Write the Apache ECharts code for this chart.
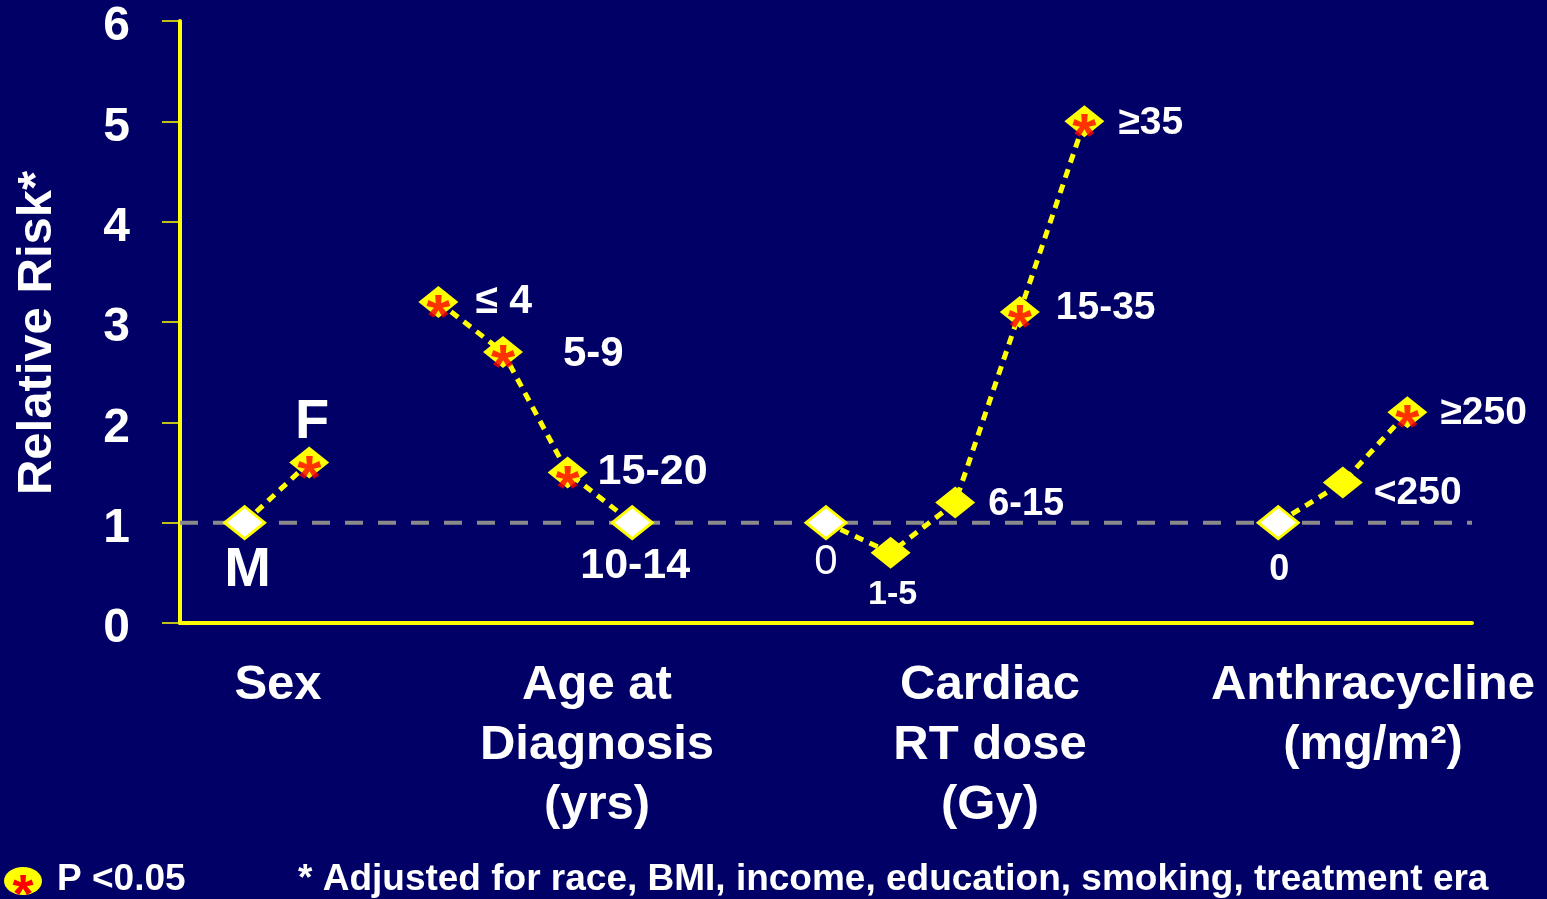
<!DOCTYPE html>
<html>
<head>
<meta charset="utf-8">
<script src="https://cdn.jsdelivr.net/npm/echarts@6/dist/echarts.min.js"></script>
<style>
html,body{margin:0;padding:0;background:#000066;}
#chart{width:1547px;height:899px;}
</style>
</head>
<body>
<div id="chart"></div>
<script>
// ---------------- data ----------------
const groupNames = ['Sex', 'Age at\nDiagnosis\n(yrs)', 'Cardiac\nRT dose\n(Gy)', 'Anthracycline\n(mg/m²)'];

const sexLevels = ['M', 'F'];
const sexSlot = [1, 2];
const sexRR = [1.0, 1.6];
const sexSig = [false, true];
const sexRef = 'M';

const ageLevels = ['≤ 4', '5-9', '15-20', '10-14'];
const ageSlot = [4, 5, 6, 7];
const ageRR = [3.2, 2.7, 1.5, 1.0];
const ageSig = [true, true, true, false];
const ageRef = '10-14';

const cardiacLevels = ['0', '1-5', '6-15', '15-35', '≥35'];
const cardiacSlot = [10, 11, 12, 13, 14];
const cardiacRR = [1.0, 0.7, 1.2, 3.1, 5.0];
const cardiacSig = [false, false, false, true, true];
const cardiacRef = '0';

const anthraLevels = ['0', '<250', '≥250'];
const anthraSlot = [17, 18, 19];
const anthraRR = [1.0, 1.4, 2.1];
const anthraSig = [false, false, true];
const anthraRef = '0';

const yTicks = [0, 1, 2, 3, 4, 5, 6];
const baselineRR = 1;
const yTitle = 'Relative Risk*';
const sigLegend = 'P <0.05';
const footnote = '* Adjusted for race, BMI, income, education, smoking, treatment era';

// ---------------- styling (layout, not data) ----------------
const FONT = '"Liberation Sans", Arial, Helvetica, sans-serif';
const YEL = '#ffff00';
// label placement per level: [dx, dy, align, fontSize, weight]
const labelLayout = {
  'M':     [3, 48, 'center', 56, 'bold'],
  'F':     [3, -40, 'center', 56, 'bold'],
  '≤ 4':   [37, 0, 'left', 41, 'bold'],
  '5-9':   [60, 2, 'left', 42, 'bold'],
  '15-20': [30, 0, 'left', 43, 'bold'],
  '10-14': [3, 43, 'center', 43, 'bold'],
  'c0':    [0, 40, 'center', 42, 'normal'],
  '1-5':   [2, 42, 'center', 34, 'bold'],
  '6-15':  [33, 2, 'left', 38, 'bold'],
  '15-35': [36, -4, 'left', 39, 'bold'],
  '≥35':   [34, 2, 'left', 39, 'bold'],
  'a0':    [1, 47, 'center', 36, 'bold'],
  '<250':  [31, 11, 'left', 39, 'bold'],
  '≥250':  [33, 1, 'left', 39, 'bold']
};

const groups = [
  {key: '', levels: sexLevels, slot: sexSlot, rr: sexRR, sig: sexSig, ref: sexRef},
  {key: '', levels: ageLevels, slot: ageSlot, rr: ageRR, sig: ageSig, ref: ageRef},
  {key: 'c', levels: cardiacLevels, slot: cardiacSlot, rr: cardiacRR, sig: cardiacSig, ref: cardiacRef},
  {key: 'a', levels: anthraLevels, slot: anthraSlot, rr: anthraRR, sig: anthraSig, ref: anthraRef}
];

function lay(g, lvl) {
  return labelLayout[lvl] || labelLayout[g.key + lvl];
}

const series = [];
// baseline RR = 1 dashed reference
series.push({
  type: 'line', z: 1, silent: true, symbol: 'none',
  data: [[0, baselineRR], [20, baselineRR]],
  lineStyle: {color: '#8a8a8a', width: 4, type: [18, 15]}
});

const sigPoints = [];
groups.forEach((g, gi) => {
  const data = g.levels.map((lvl, i) => {
    const L = lay(g, lvl);
    const isRef = lvl === g.ref;
    if (g.sig[i]) sigPoints.push([g.slot[i], g.rr[i]]);
    return {
      value: [g.slot[i], g.rr[i]],
      itemStyle: isRef ? {color: '#ffffff', borderColor: YEL, borderWidth: 3}
                       : {color: YEL, borderWidth: 0},
      label: {
        show: true, formatter: lvl, position: 'inside',
        offset: [L[0], L[1]], align: L[2], verticalAlign: 'middle',
        fontSize: L[3], fontWeight: L[4], color: '#ffffff', fontFamily: FONT
      }
    };
  });
  series.push({
    type: 'line', z: 3, silent: true,
    symbol: 'diamond', symbolSize: [40, 32], showAllSymbol: true,
    lineStyle: {color: YEL, width: 5, type: [9, 7]},
    data: data
  });
});

series.push({
  type: 'scatter', z: 5, silent: true,
  symbolSize: 1, itemStyle: {color: 'rgba(0,0,0,0)'},
  data: sigPoints,
  label: {
    show: true, formatter: '*', position: 'inside', offset: [0, 18],
    color: '#ff0000', fontSize: 62, fontWeight: 'bold', fontFamily: FONT
  }
});

const catCenters = [278, 597, 990, 1373];

const option = {
  backgroundColor: '#000066',
  animation: false,
  grid: {left: 180, right: 75, top: 21, bottom: 276, containLabel: false},
  xAxis: {
    type: 'value', min: 0, max: 20, offset: 6,
    axisLine: {show: true, lineStyle: {color: YEL, width: 4}},
    axisTick: {show: false}, axisLabel: {show: false}, splitLine: {show: false}
  },
  yAxis: {
    type: 'value', min: yTicks[0], max: yTicks[yTicks.length - 1], interval: 1,
    axisLine: {show: true, lineStyle: {color: YEL, width: 4}},
    axisTick: {show: true, length: 18, lineStyle: {color: YEL, width: 1.5}},
    axisLabel: {color: '#ffffff', fontSize: 48, fontWeight: 'bold', fontFamily: FONT,
                margin: 50, verticalAlign: 'top', lineHeight: 12},
    splitLine: {show: false}
  },
  series: series,
  graphic: [
    {type: 'text', x: 37, y: 333, rotation: Math.PI / 2, silent: true,
     style: {text: yTitle, fill: '#ffffff', font: 'bold 49px ' + FONT,
             textAlign: 'center', textVerticalAlign: 'middle'}},
    ...groupNames.map((t, i) => ({
      type: 'text', x: catCenters[i], y: 655, silent: true,
      style: {text: t, fill: '#ffffff', font: 'bold 49px ' + FONT,
              textAlign: 'center', textVerticalAlign: 'top', lineHeight: 60}
    })),
    {type: 'ellipse', shape: {cx: 23, cy: 881, rx: 19, ry: 14}, style: {fill: YEL}, silent: true},
    {type: 'text', x: 23, y: 897, silent: true,
     style: {text: '*', fill: '#ff0000', font: 'bold 54px ' + FONT, textAlign: 'center', textVerticalAlign: 'middle'}},
    {type: 'text', x: 57, y: 880, silent: true,
     style: {text: sigLegend, fill: '#ffffff', font: 'bold 37px ' + FONT, textAlign: 'left', textVerticalAlign: 'middle'}},
    {type: 'text', x: 298, y: 880, silent: true,
     style: {text: footnote, fill: '#ffffff', font: 'bold 37px ' + FONT, textAlign: 'left', textVerticalAlign: 'middle'}}
  ]
};

const chart = echarts.init(document.getElementById('chart'), null, {renderer: 'canvas'});
chart.setOption(option);
</script>
</body>
</html>
